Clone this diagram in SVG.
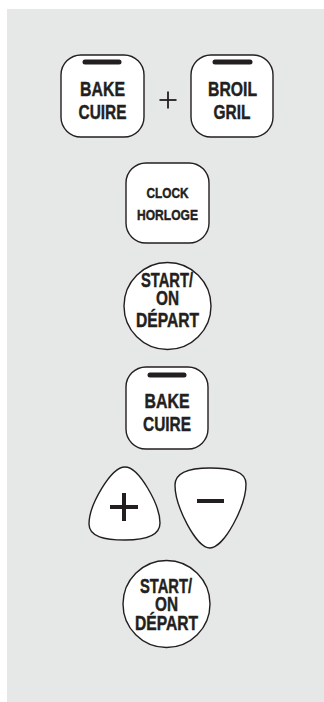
<svg xmlns="http://www.w3.org/2000/svg" width="324" height="702" viewBox="0 0 324 702">
<style>
.key{fill:#ffffff;stroke:#231f20;stroke-width:1.4}
.bar{stroke:#231f20;stroke-width:5;stroke-linecap:round}
.lbl{font-family:"Liberation Sans",Arial,sans-serif;font-weight:bold;fill:#231f20;stroke:#231f20;stroke-width:0.45;text-anchor:middle}
.big{font-size:21px}
.st{font-size:20px}
.small{font-size:15.5px}
.sign{stroke:#231f20;fill:none}
</style>
<rect x="7" y="9" width="317" height="693" fill="#e6e7e7"/>
<g id="bake1">
<rect class="key" x="61" y="55" width="83" height="82" rx="20" ry="20"/>
<line class="bar" x1="85" y1="62" x2="119" y2="62"/>
<text class="lbl big" x="102.5" y="95.5" textLength="45" lengthAdjust="spacingAndGlyphs">BAKE</text>
<text class="lbl big" x="102.5" y="118.5" textLength="48" lengthAdjust="spacingAndGlyphs">CUIRE</text>
</g>
<g id="plus-text">
<line class="sign" x1="159.5" y1="100" x2="176.5" y2="100" stroke-width="1.8"/>
<line class="sign" x1="168" y1="91.5" x2="168" y2="108.5" stroke-width="1.8"/>
</g>
<g id="broil">
<rect class="key" x="191" y="55" width="82" height="82" rx="20" ry="20"/>
<line class="bar" x1="215" y1="62" x2="250" y2="62"/>
<text class="lbl big" x="232.5" y="95.5" textLength="49" lengthAdjust="spacingAndGlyphs">BROIL</text>
<text class="lbl big" x="232" y="118.5" textLength="37" lengthAdjust="spacingAndGlyphs">GRIL</text>
</g>
<g id="clock">
<rect class="key" x="126" y="163" width="83" height="80" rx="20" ry="20"/>
<text class="lbl small" x="167.5" y="198" textLength="42" lengthAdjust="spacingAndGlyphs">CLOCK</text>
<text class="lbl small" x="167.5" y="220" textLength="61" lengthAdjust="spacingAndGlyphs">HORLOGE</text>
</g>
<g id="start1">
<circle class="key" cx="167.5" cy="306" r="43.5"/>
<text class="lbl st" x="167" y="287" textLength="52" lengthAdjust="spacingAndGlyphs">START/</text>
<text class="lbl st" x="167.5" y="305" textLength="23" lengthAdjust="spacingAndGlyphs">ON</text>
<text class="lbl st" x="167.5" y="327" textLength="63" lengthAdjust="spacingAndGlyphs">DÉPART</text>
</g>
<g id="bake2">
<rect class="key" x="126" y="367" width="82" height="82" rx="20" ry="20"/>
<line class="bar" x1="150" y1="375" x2="184" y2="375"/>
<text class="lbl big" x="167" y="408" textLength="45" lengthAdjust="spacingAndGlyphs">BAKE</text>
<text class="lbl big" x="167" y="431" textLength="48" lengthAdjust="spacingAndGlyphs">CUIRE</text>
</g>
<g id="up">
<path class="key" d="M125,467 C139,467 160,505 160,523 C160,536 145,540 125,540 C105,540 89,537 89,524 C89,505 111,467 125,467 Z"/>
<line class="sign" x1="110" y1="507" x2="138" y2="507" stroke-width="4"/>
<line class="sign" x1="124" y1="493" x2="124" y2="521" stroke-width="4"/>
</g>
<g id="down">
<path class="key" d="M210,548 C196,548 175,506 175,485 C175,472 190,468 210,468 C230,468 246,471 246,484 C246,506 224,548 210,548 Z"/>
<line class="sign" x1="197" y1="501" x2="224" y2="501" stroke-width="4"/>
</g>
<g id="start2">
<circle class="key" cx="166.5" cy="604" r="43.5"/>
<text class="lbl st" x="166" y="593" textLength="52" lengthAdjust="spacingAndGlyphs">START/</text>
<text class="lbl st" x="166.5" y="610.5" textLength="23" lengthAdjust="spacingAndGlyphs">ON</text>
<text class="lbl st" x="166.5" y="629.5" textLength="63" lengthAdjust="spacingAndGlyphs">DÉPART</text>
</g>
</svg>
